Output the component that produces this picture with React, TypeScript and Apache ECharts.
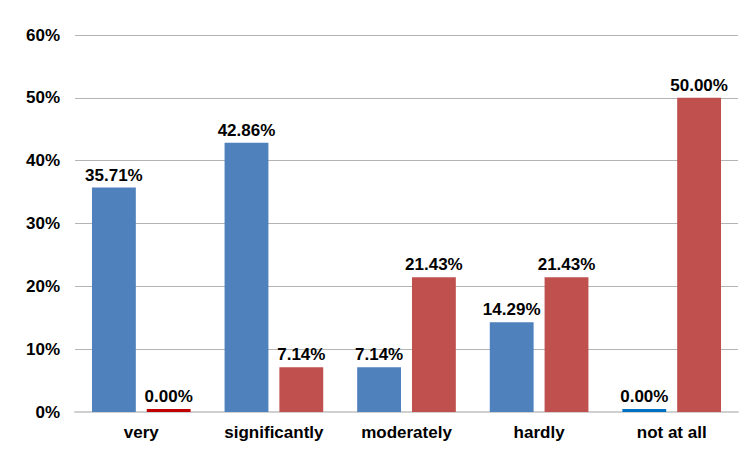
import React, { useEffect, useRef } from "react";
import * as echarts from "echarts";

const categories = ["very", "significantly", "moderately", "hardly", "not at all"];
const seriesA = [35.71, 42.86, 7.14, 14.29, 0];
const seriesB = [0, 7.14, 21.43, 21.43, 50];
const yTicks = [0, 10, 20, 30, 40, 50, 60];

const BLUE = "#4F81BD";
const RED = "#C0504D";
const ZERO_BLUE = "#0070C0";
const ZERO_RED = "#C00000";

export default function App() {
  const ref = useRef<HTMLDivElement>(null);
  useEffect(() => {
    if (!ref.current) return;
    const chart = echarts.init(ref.current, undefined, { renderer: "svg" });
    const font = "'Liberation Sans', Arial, sans-serif";
    const label = {
      show: true,
      position: "top" as const,
      distance: 4,
      color: "#000",
      fontFamily: font,
      fontWeight: "bold" as const,
      fontSize: 17,
      formatter: (p: any) => Number(p.value).toFixed(2) + "%",
    };
    chart.setOption({
      animation: false,
      grid: { left: 75, right: 11, top: 35, bottom: 48 },
      xAxis: {
        type: "category",
        data: categories,
        axisTick: { show: false },
        axisLine: { lineStyle: { color: "#D0D0D0", width: 2 } },
        axisLabel: {
          color: "#000",
          fontFamily: font,
          fontWeight: "bold",
          fontSize: 17,
          margin: 12,
        },
      },
      yAxis: {
        type: "value",
        min: yTicks[0],
        max: yTicks[yTicks.length - 1],
        interval: 10,
        axisLine: { show: false },
        axisTick: { show: false },
        splitLine: { lineStyle: { color: "#B4B4B4", width: 1 } },
        axisLabel: {
          color: "#000",
          fontFamily: font,
          fontWeight: "bold",
          fontSize: 17,
          margin: 15,
          formatter: (v: number) => v + "%",
        },
      },
      series: [
        {
          type: "bar",
          data: seriesA.map((v) =>
            v === 0 ? { value: v, itemStyle: { color: ZERO_BLUE } } : v
          ),
          itemStyle: { color: BLUE },
          barMinHeight: 3,
          barGap: "25%",
          barCategoryGap: "25.6%",
          label,
        },
        {
          type: "bar",
          data: seriesB.map((v) =>
            v === 0 ? { value: v, itemStyle: { color: ZERO_RED } } : v
          ),
          itemStyle: { color: RED },
          barMinHeight: 3,
          barGap: "25%",
          barCategoryGap: "25.6%",
          label,
        },
      ],
    });
    return () => chart.dispose();
  }, []);
  return <div ref={ref} style={{ width: 749, height: 460, position: "absolute", left: 0, top: 0, background: "#fff" }} />;
}
